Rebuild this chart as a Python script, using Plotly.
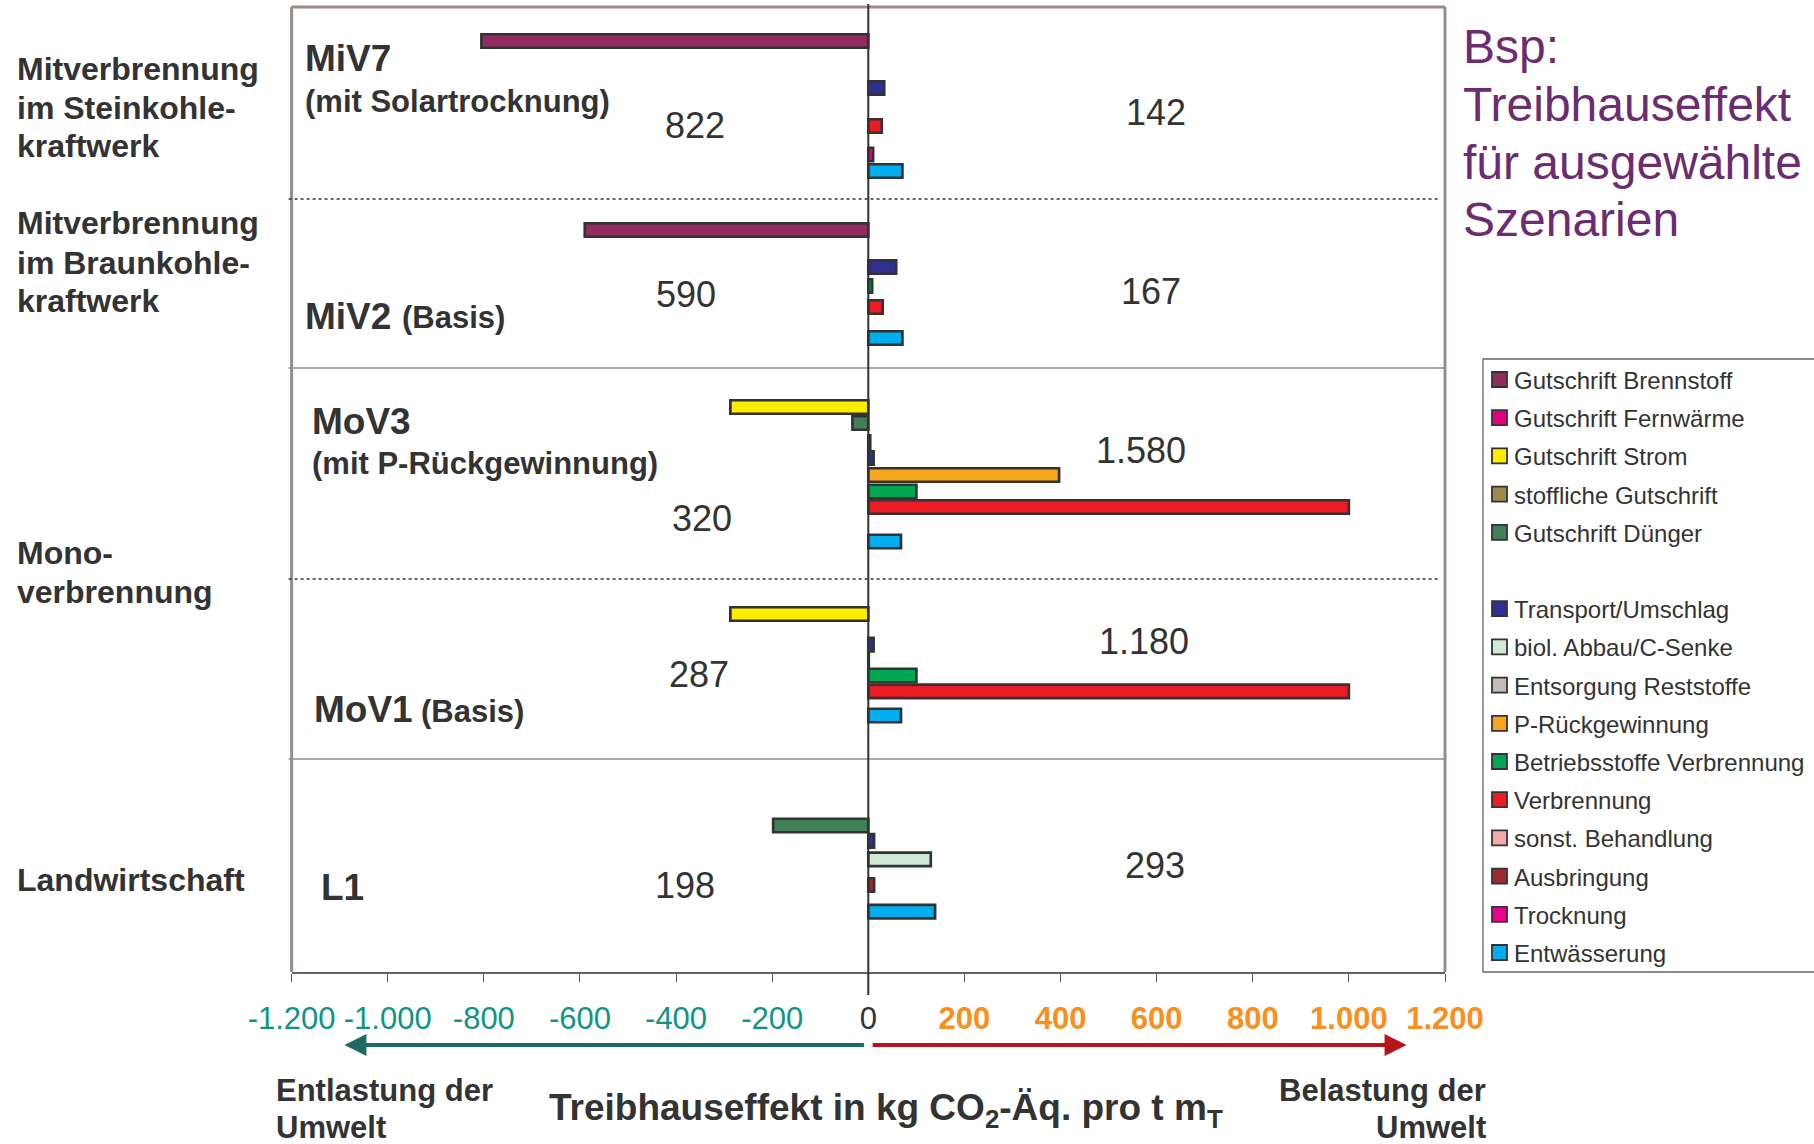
import plotly.graph_objects as go

# ---------------------------------------------------------------- data
components = [
    "Gutschrift Brennstoff", "Gutschrift Fernwärme", "Gutschrift Strom",
    "stoffliche Gutschrift", "Gutschrift Dünger",
    "Transport/Umschlag", "biol. Abbau/C-Senke", "Entsorgung Reststoffe",
    "P-Rückgewinnung", "Betriebsstoffe Verbrennung", "Verbrennung",
    "sonst. Behandlung", "Ausbringung", "Trocknung", "Entwässerung",
]
component_colors = [
    "#922B5F", "#E6007E", "#FFED00", "#9C8B50", "#417F59",
    "#2E3192", "#CFE8D8", "#C4BAB8", "#F7A51C", "#00A651", "#ED1C24",
    "#F4A9A8", "#9E2A2F", "#EC008C", "#00AEEF",
]
n_credit_items = 5  # the first five entries are credits (Gutschriften)

scenario_ids = ["MiV7", "MiV2", "MoV3", "MoV1", "L1"]
scenario_notes = ["(mit Solartrocknung)", "(Basis)", "(mit P-Rückgewinnung)", "(Basis)", ""]
scenario_groups = [
    ["Mitverbrennung", "im Steinkohle-", "kraftwerk"],
    ["Mitverbrennung", "im Braunkohle-", "kraftwerk"],
    ["Mono-", "verbrennung"],
    ["Landwirtschaft"],
]

# totals stated next to the bars (kg CO2-Äq. pro t mT)
credit_totals = [822, 590, 320, 287, 198]
burden_totals = [142, 167, 1580, 1180, 293]

miv7_parts = ["Gutschrift Brennstoff", "Transport/Umschlag", "Verbrennung", "Trocknung", "Entwässerung"]
miv7_values = [-805, 33, 28, 10, 71]

miv2_parts = ["Gutschrift Brennstoff", "Transport/Umschlag", "Betriebsstoffe Verbrennung", "Verbrennung", "Entwässerung"]
miv2_values = [-590, 58, 8, 30, 71]

mov3_parts = ["Gutschrift Strom", "Gutschrift Dünger", "Entsorgung Reststoffe", "Transport/Umschlag",
              "P-Rückgewinnung", "Betriebsstoffe Verbrennung", "Verbrennung", "Entwässerung"]
mov3_values = [-287, -33, 4, 11, 397, 100, 1000, 68]

mov1_parts = ["Gutschrift Strom", "Transport/Umschlag", "Entsorgung Reststoffe",
              "Betriebsstoffe Verbrennung", "Verbrennung", "Entwässerung"]
mov1_values = [-287, 11, 1, 100, 1000, 68]

l1_parts = ["Gutschrift Dünger", "Transport/Umschlag", "biol. Abbau/C-Senke", "Ausbringung", "Entwässerung"]
l1_values = [-198, 12, 130, 12, 139]

tick_values = list(range(-1200, 1201, 200))

# ---------------------------------------------------------------- layout config
W, H = 1814, 1144
FONT = "Liberation Sans, Arial, Helvetica, sans-serif"
TXT = "#333333"
PLOT_L, PLOT_R, PLOT_T, PLOT_B = 291.6, 1445.0, 7.0, 972.0
PANEL = PLOT_B - PLOT_T  # y axis runs 0 (top) .. PANEL (bottom)

# bar rows (offset from the top of the panel) for each scenario
scenario_rows = [
    [34, 81, 119, 147.5, 164],
    [223, 260, 279, 300, 331],
    [400, 416, 435, 451, 468, 484.5, 500, 534.5],
    [607, 637.7, 653, 668.5, 684.3, 708.5],
    [818.5, 833.8, 852.3, 878, 904.7],
]
band_edges = [192, 361, 572, 752]          # separators between scenarios
band_dotted = [True, False, True, False]

scenario_parts = [miv7_parts, miv2_parts, mov3_parts, mov1_parts, l1_parts]
scenario_values = [miv7_values, miv2_values, mov3_values, mov1_values, l1_values]


def px(x):
    return x / W


def py(y):
    return 1 - y / H


def de_num(v):
    s = f"{abs(v):,}".replace(",", ".")
    return ("-" if v < 0 else "") + s


fig = go.Figure()

# one bar trace per component, collecting its rows across scenarios
for comp, col in zip(components, component_colors):
    xs, ys = [], []
    for parts, vals, rows in zip(scenario_parts, scenario_values, scenario_rows):
        for p, v, r in zip(parts, vals, rows):
            if p == comp:
                xs.append(v)
                ys.append(r)
    if not xs:
        continue
    fig.add_trace(go.Bar(
        x=xs, y=ys, orientation="h", name=comp, width=13.5,
        marker=dict(color=col, line=dict(color="#333333", width=2.7)),
        showlegend=False, hoverinfo="skip",
    ))

# tick labels: credits teal, burdens bold orange
ticktext = []
for v in tick_values:
    if v < 0:
        ticktext.append(f'<span style="color:#109585">{de_num(v)}</span>')
    elif v == 0:
        ticktext.append("0")
    else:
        ticktext.append(f'<span style="color:#F7901E"><b>{de_num(v)}</b></span>')

fig.update_layout(
    width=W, height=H, margin=dict(l=0, r=0, t=0, b=0, autoexpand=False),
    paper_bgcolor="white", plot_bgcolor="white",
    barmode="overlay", showlegend=False,
    font=dict(family=FONT, color=TXT),
    xaxis=dict(
        domain=[px(PLOT_L), px(PLOT_R)], range=[-1200, 1200], automargin=False,
        tickvals=tick_values, ticktext=ticktext,
        tickfont=dict(size=31, color=TXT, family=FONT),
        ticks="outside", ticklen=8, tickwidth=1.2, tickcolor="#555555",
        ticklabelstandoff=10,
        showline=True, linecolor="#6a6262", linewidth=2,
        showgrid=False, zeroline=False, fixedrange=True,
    ),
    yaxis=dict(
        domain=[py(PLOT_B), py(PLOT_T)], range=[PANEL, 0], automargin=False,
        showticklabels=False, showgrid=False, zeroline=False,
        showline=False, ticks="", fixedrange=True,
    ),
)

shapes = []
# frame (left, top, right)
frame_col = "#978c8a"
for x0, y0, x1, y1 in [(PLOT_L, PLOT_T, PLOT_L, PLOT_B), (PLOT_L, PLOT_T, PLOT_R, PLOT_T),
                       (PLOT_R, PLOT_T, PLOT_R, PLOT_B)]:
    shapes.append(dict(type="line", xref="paper", yref="paper",
                       x0=px(x0), y0=py(y0), x1=px(x1), y1=py(y1),
                       line=dict(color=frame_col, width=3)))
# scenario separators
for edge, dotted in zip(band_edges, band_dotted):
    shapes.append(dict(type="line", xref="paper", yref="y",
                       x0=px(PLOT_L - 3), x1=px(PLOT_R - (5 if dotted else 0)), y0=edge, y1=edge,
                       line=dict(color="#333333" if dotted else "#8c8c8c",
                                 width=1.4,
                                 dash="dot" if dotted else "solid")))
# zero line, running through the axis
shapes.append(dict(type="line", xref="x", yref="paper", x0=0, x1=0,
                   y0=py(4), y1=py(995), line=dict(color="#333333", width=2)))

# legend box and swatches
LEG_L, LEG_T, LEG_B = 1483, 359, 972
shapes.append(dict(type="rect", xref="paper", yref="paper",
                   x0=px(LEG_L), x1=px(W + 5), y0=py(LEG_B), y1=py(LEG_T),
                   line=dict(color="#666666", width=1.3), fillcolor="rgba(0,0,0,0)"))

annotations = []


def text(t, x, y, size, bold=False, color=TXT, xanchor="left"):
    annotations.append(dict(
        text=f"<b>{t}</b>" if bold else t, x=px(x), y=py(y), xref="paper", yref="paper",
        xanchor=xanchor, yanchor="middle", showarrow=False,
        font=dict(size=size, color=color, family=FONT),
    ))


for i, (comp, col) in enumerate(zip(components, component_colors)):
    slot = i + (1 if i >= n_credit_items else 0)
    cy = 379.5 + 38.2 * slot
    shapes.append(dict(type="rect", xref="paper", yref="paper",
                       x0=px(1492), x1=px(1507), y0=py(cy + 7.5), y1=py(cy - 7.5),
                       fillcolor=col, line=dict(color="#333333", width=1.8)))
    text(comp, 1512, cy + 1, 24)

# title
for t, y in zip(["Bsp:", "Treibhauseffekt", "für ausgewählte", "Szenarien"], [46, 104, 162, 219]):
    text(t, 1461, y, 48, color="#6B2D6F")

# group labels on the left
group_line_y = [[69, 108, 146], [223, 263, 301], [553, 592], [880]]
for lines, ys in zip(scenario_groups, group_line_y):
    for t, y in zip(lines, ys):
        text(t, 15, y, 32, bold=True)

# scenario names inside the panel
id_pos = [(303, 58), (303, 316), (310, 421), (312, 709), (319, 887)]
note_pos = [(303, 101), (400, 318), (310, 463), (419, 711), None]
for sid, note, ip, npos in zip(scenario_ids, scenario_notes, id_pos, note_pos):
    text(sid, ip[0], ip[1], 37, bold=True)
    if note:
        text(note, npos[0], npos[1], 31, bold=True)

# totals of credits (left) and burdens (right)
credit_pos = [(695, 125), (686, 294), (702, 518), (699, 674), (685, 885)]
burden_pos = [(1156, 113), (1151, 292), (1141, 450), (1144, 641), (1155, 865)]
for tot, (x, y) in zip(credit_totals, credit_pos):
    text(de_num(tot), x, y, 36, xanchor="center")
for tot, (x, y) in zip(burden_totals, burden_pos):
    text(de_num(tot), x, y, 36, xanchor="center")

# direction arrows below the axis
arrow_y = py(1045)
annotations.append(dict(x=-1090, y=arrow_y, xref="x", yref="paper", ax=-6, ay=0,
                        axref="x", ayref="pixel", showarrow=True, arrowhead=2,
                        arrowsize=1.1, arrowwidth=4, arrowcolor="#1D6A62", text=""))
annotations.append(dict(x=1120, y=arrow_y, xref="x", yref="paper", ax=6, ay=0,
                        axref="x", ayref="pixel", showarrow=True, arrowhead=2,
                        arrowsize=1.1, arrowwidth=4, arrowcolor="#B8141C", text=""))

# axis captions
text("Entlastung der", 274, 1090, 31, bold=True)
text("Umwelt", 274, 1127, 31, bold=True)
text("Belastung der", 1488, 1090, 31, bold=True, xanchor="right")
text("Umwelt", 1488, 1127, 31, bold=True, xanchor="right")
text("Treibhauseffekt in kg CO<sub>2</sub>-Äq. pro t m<sub>T</sub>", 886, 1110, 37,
     bold=True, xanchor="center")

fig.update_layout(shapes=shapes, annotations=annotations)
fig.write_html("out.html")
